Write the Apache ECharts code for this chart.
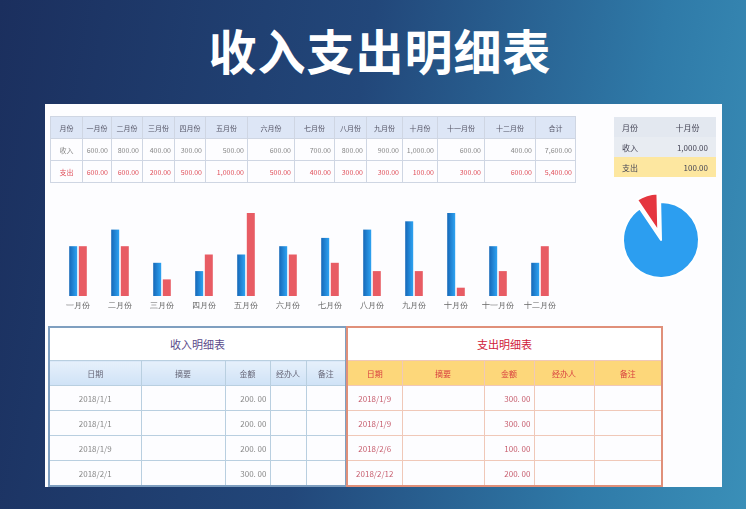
<!DOCTYPE html>
<html><head><meta charset="utf-8">
<script src="https://cdn.jsdelivr.net/npm/echarts@6/dist/echarts.min.js"></script>
<style>
body{margin:0;width:746px;height:509px;overflow:hidden;font-family:"Noto Sans CJK SC",sans-serif;
background:linear-gradient(100deg,#1b2f5e 0%,#22477a 45%,#2f7aa8 80%,#3a8fb8 100%);position:relative}
#title{position:absolute;left:0;width:760px;top:14px;text-align:center;color:#fff;font-size:48px;font-weight:bold;letter-spacing:1px}
#panel{position:absolute;left:45px;top:104px;width:677px;height:383px;background:#fdfdff}
table{border-collapse:collapse;table-layout:fixed;position:absolute;}
td{overflow:hidden;white-space:nowrap;padding:0 3px;}
#t1 td{border:1px solid #cfd6e3;font-size:7px;color:#888;height:21px;text-align:right}
#t1 tr:first-child td{background:#dde6f6;text-align:center;color:#556}
#t1 td:first-child{text-align:center}
#t1 tr.ex td{color:#e0505a}
#t2 td{font-size:8px;color:#445;height:20px;padding:0 8px}
#t2 td:last-child{text-align:right}
#t3 td,#t4 td{font-size:8px;height:24px;text-align:center}
#t3 td{border:1px solid #b9cfe0;color:#888}
#t3{border:2px solid #7f9fc0}
#t4 td{border:1px solid #f0c8b8;color:#c86070}
#t4{border:2px solid #e0907a}
.ttl td{height:32px!important;font-size:11px!important;background:#fff}
#c{position:absolute;left:0;top:0;width:746px;height:509px}
</style></head><body>
<div id="title">收入支出明细表</div>
<div id="panel"></div>
<div id="c"></div>
<script>
const months=['一月份','二月份','三月份','四月份','五月份','六月份','七月份','八月份','九月份','十月份','十一月份','十二月份'];
const income=[600,800,400,300,500,600,700,800,900,1000,600,400];
const expense=[600,600,200,500,1000,500,400,300,300,100,300,600];
const incomeRows=[['2018/1/1',200],['2018/1/1',200],['2018/1/9',200],['2018/2/1',300]];
const expenseRows=[['2018/1/9',300],['2018/1/9',300],['2018/2/6',100],['2018/2/12',200]];
const fmt=v=>v.toLocaleString('en-US',{minimumFractionDigits:2});
function mk(id,html,style){const t=document.createElement('table');t.id=id;t.style.cssText=style;t.innerHTML=html;document.body.appendChild(t);return t;}
const w1=[32,29,31,32,31,42,47,40,32,36,35,47,51,40];
let h='<colgroup>'+w1.map(w=>`<col style="width:${w}px">`).join('')+'</colgroup>';
h+='<tr><td>月份</td>'+months.map(m=>`<td>${m}</td>`).join('')+'<td>合计</td></tr>';
const si=income.reduce((a,b)=>a+b,0),se=expense.reduce((a,b)=>a+b,0);
h+='<tr><td>收入</td>'+income.map(v=>`<td>${fmt(v)}</td>`).join('')+`<td>${fmt(si)}</td></tr>`;
h+='<tr class="ex"><td>支出</td>'+expense.map(v=>`<td>${fmt(v)}</td>`).join('')+`<td>${fmt(se)}</td></tr>`;
mk('t1',h,'left:50px;top:116px;width:525px');
mk('t2',`<colgroup><col style="width:45px"><col style="width:57px"></colgroup>
<tr style="background:#e3e8f0"><td>月份</td><td style="text-align:center">${months[9]}</td></tr>
<tr style="background:#e8ecf2"><td>收入</td><td>${fmt(income[9])}</td></tr>
<tr style="background:#fde7a0"><td>支出</td><td>${fmt(expense[9])}</td></tr>`,'left:614px;top:117px;width:102px');
function detail(id,title,rows,widths,left,hdrBg,hdrColor,titleColor){
 let s='<colgroup>'+widths.map(w=>`<col style="width:${w}px">`).join('')+'</colgroup>';
 s+=`<tr class="ttl"><td colspan="5" style="color:${titleColor}">${title}</td></tr>`;
 s+=`<tr>`+['日期','摘要','金额','经办人','备注'].map(x=>`<td style="background:${hdrBg};color:${hdrColor}">${x}</td>`).join('')+'</tr>';
 rows.forEach(r=>{s+=`<tr><td>${r[0]}</td><td></td><td style="text-align:right">${fmt(r[1]).replace('.','. ')}</td><td></td><td></td></tr>`;});
 mk(id,s,`left:${left}px;top:326px;width:${widths.reduce((a,b)=>a+b)}px`);
}
detail('t3','收入明细表',incomeRows,[92,84,45,36,40],48,'linear-gradient(#e6f0fb,#cfe2f6)','#667','#5a4a8a');
detail('t4','支出明细表',expenseRows,[55,82,50,60,68],346,'#fdd77a','#d84040','#d0203a');
const chart=echarts.init(document.getElementById('c'));
chart.setOption({
 animation:false,
 grid:{left:57,top:213,width:504,height:83},
 xAxis:{type:'category',data:months,axisLine:{show:false},axisTick:{show:false},
  axisLabel:{fontSize:8,color:'#666',margin:6}},
 yAxis:{type:'value',min:0,max:1000,show:false,splitLine:{show:false}},
 series:[
  {type:'bar',data:income,barWidth:8,barGap:'20%',itemStyle:{color:new echarts.graphic.LinearGradient(0,0,1,0,[{offset:0,color:'#1668b8'},{offset:1,color:'#2ea3f2'}])}},
  {type:'bar',data:expense,barWidth:8,itemStyle:{color:'#e85c64'}},
  {type:'pie',center:[661,240],radius:[0,38],startAngle:124,label:{show:false},selectedMode:'single',selectedOffset:9,
   itemStyle:{borderColor:'#fff',borderWidth:2},
   data:[{value:expense[9],name:'支出',selected:true,itemStyle:{color:'#e5363f'}},{value:income[9],name:'收入',itemStyle:{color:'#2c9ef0'}}]}
 ]
});
</script></body></html>
